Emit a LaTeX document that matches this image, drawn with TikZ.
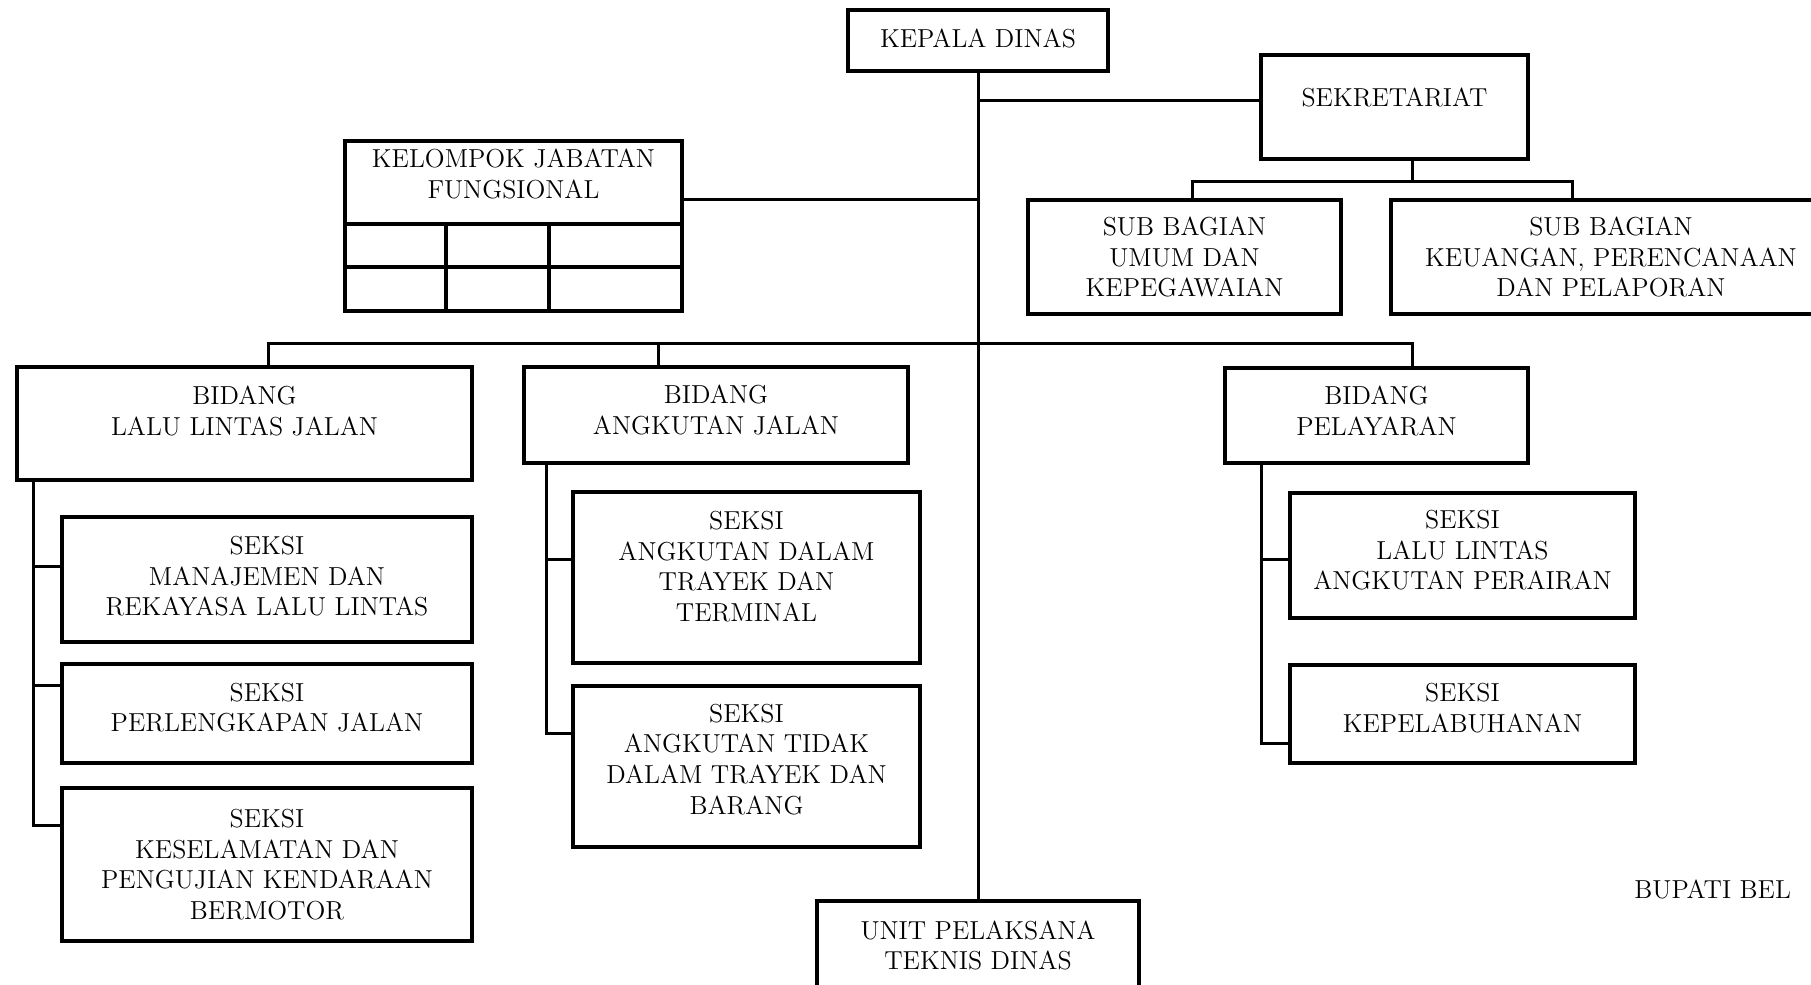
\documentclass[tikz,border=0pt]{standalone}
\usepackage{fontspec}

\begin{document}
\begin{tikzpicture}[x=0.5pt,y=-0.5pt]
        \tikzset{unitbox/.style = {draw,line width=2pt,inner sep=0pt,outer sep=0pt,align=center,font=\fontsize{13}{15.3}\selectfont}};
        \tikzset{link/.style = {line width=1.5pt}};
        \useasboundingbox (0,0) rectangle (1811,985);
        % top
        \node[unitbox,minimum width=130pt,minimum height=30.5pt,text depth=2.5pt] (kepala) at (978,40.5) {KEPALA DINAS};
        \node[unitbox,minimum width=133.5pt,minimum height=52pt,text depth=10pt] (sek) at (1394.5,107) {SEKRETARIAT};
        \node[unitbox,minimum width=168.5pt,minimum height=41.5pt,text depth=8.5pt] (kjf) at (513.5,182.5) {KELOMPOK JABATAN\\FUNGSIONAL};
        \node[unitbox,minimum width=156.5pt,minimum height=57pt] (subum) at (1184.5,257) {SUB BAGIAN\\UMUM DAN\\KEPEGAWAIAN};
        \node[unitbox,minimum width=220pt,minimum height=57pt] (subkeu) at (1611,257) {SUB BAGIAN\\KEUANGAN, PERENCANAAN\\DAN PELAPORAN};
        % bidang
        \node[unitbox,minimum width=227.5pt,minimum height=56.5pt,text depth=13pt] (bidllj) at (244.5,423.5) {BIDANG\\LALU LINTAS JALAN};
        \node[unitbox,minimum width=192pt,minimum height=48pt,text depth=5pt] (bidaj) at (716,415) {BIDANG\\ANGKUTAN JALAN};
        \node[unitbox,minimum width=151.5pt,minimum height=47.5pt,text depth=5pt] (bidpel) at (1376.5,415.5) {BIDANG\\PELAYARAN};
        % seksi
        \node[unitbox,minimum width=205pt,minimum height=62.5pt,text depth=3.5pt] (skman) at (267,579.5) {SEKSI\\MANAJEMEN DAN\\REKAYASA LALU LINTAS};
        \node[unitbox,minimum width=205pt,minimum height=49.5pt,text depth=6pt] (skperl) at (267,713.5) {SEKSI\\PERLENGKAPAN JALAN};
        \node[unitbox,minimum width=205pt,minimum height=76.5pt] (skkes) at (267,864.5) {SEKSI\\KESELAMATAN DAN\\PENGUJIAN KENDARAAN\\BERMOTOR};
        \node[unitbox,minimum width=173.5pt,minimum height=85.5pt,text depth=11pt] (skadt) at (746.5,577.5) {SEKSI\\ANGKUTAN DALAM\\TRAYEK DAN\\TERMINAL};
        \node[unitbox,minimum width=173.5pt,minimum height=80.5pt,text depth=7.5pt] (skatdt) at (746.5,766.5) {SEKSI\\ANGKUTAN TIDAK\\DALAM TRAYEK DAN\\BARANG};
        \node[unitbox,minimum width=172.5pt,minimum height=62.5pt,text depth=5.5pt] (skllap) at (1462.5,555.5) {SEKSI\\LALU LINTAS\\ANGKUTAN PERAIRAN};
        \node[unitbox,minimum width=172.5pt,minimum height=49pt,text depth=6pt] (skkep) at (1462.5,714) {SEKSI\\KEPELABUHANAN};
        \node[unitbox,minimum width=161pt,minimum height=44.5pt] (upt) at (978,945.5) {UNIT PELAKSANA\\TEKNIS DINAS};
        \node[font=\fontsize{13}{15.3}\selectfont,anchor=base west,inner sep=0pt] (bupati) at (1634,898) {BUPATI BEL};
        % grid under jabatan fungsional
        \draw[line width=2pt] (kjf.south west) rectangle ++(337,87);
        \draw[line width=2pt] ([yshift=-21.5pt]kjf.south west) -- ++(337,0);
        \draw[line width=2pt] (kjf.south west) ++(101,0) -- ++(0,87);
        \draw[line width=2pt] (kjf.south west) ++(204,0) -- ++(0,87);
        % junctions
        \coordinate (sekbus) at (1412,181);
        \coordinate (bus) at (978,343);
        \coordinate (lljx) at (33.5,480);
        \coordinate (ajx) at (546.5,463);
        \coordinate (pelx) at (1261,463);
        % lines
        \draw[link] (kepala) -- (upt);
        \draw[link] ([yshift=3.5pt]sek.west) -| (kepala.south);
        \draw[link] ([yshift=-8.25pt]kjf.east) -| (kepala.south);
        \draw[link] (sek.south -| sekbus) -- (sekbus);
        \draw[link] ([xshift=3.75pt]subum.north) |- (sekbus) -| ([xshift=-19.5pt]subkeu.north);
        \draw[link] ([xshift=11.75pt]bidllj.north) |- (bus) -| ([xshift=17.75pt]bidpel.north);
        \draw[link] ([xshift=-29pt]bidaj.north) |- (bus);
        \draw[link] (bidllj.south -| lljx) |- ([yshift=19.75pt]skkes.west);
        \draw[link] ([yshift=6.75pt]skman.west) -| (lljx);
        \draw[link] ([yshift=14.25pt]skperl.west) -| (lljx);
        \draw[link] (bidaj.south -| ajx) |- ([yshift=16.75pt]skatdt.west);
        \draw[link] ([yshift=9.25pt]skadt.west) -| (ajx);
        \draw[link] (bidpel.south -| pelx) |- ([yshift=-14.5pt]skkep.west);
        \draw[link] ([yshift=-1.75pt]skllap.west) -| (pelx);
\end{tikzpicture}
\end{document}
